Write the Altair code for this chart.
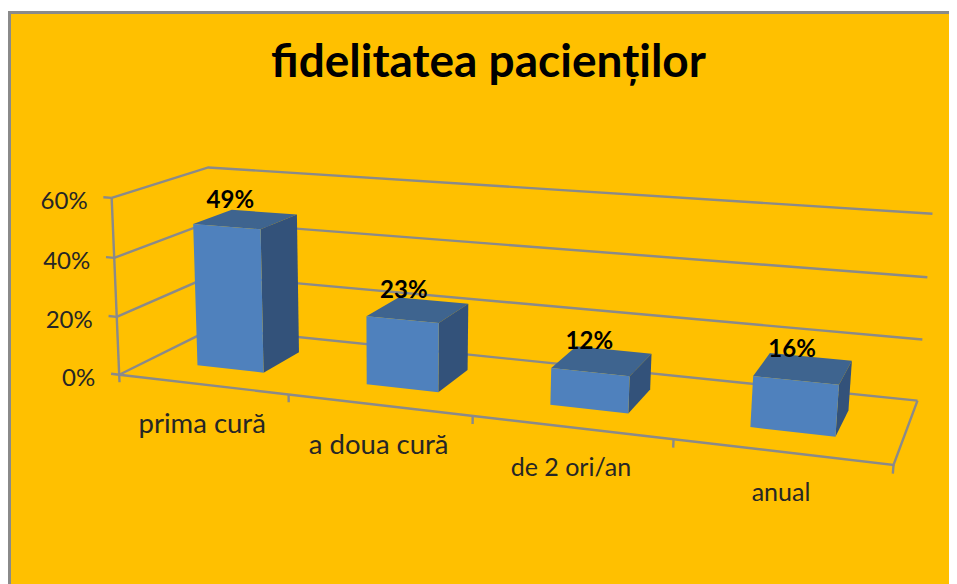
import altair as alt
import numpy as np
import pandas as pd

# ---- chart values
CATEGORIES = ["prima cură", "a doua cură", "de 2 ori/an", "anual"]
VALUES = [49, 23, 12, 16]
Y_TICKS = [0, 20, 40, 60]
TITLE = "fidelitatea pacienților"

# ---- scene calibration: (category pos, depth, value) -> picture position
ANCHORS = [
    (0, 0, 0, 122, 374), (1, 0, 0, 290, 395), (2, 0, 0, 473, 417), (3, 0, 0, 673, 440), (4, 0, 0, 893, 465),
    (0, 0, 20, 118, 316), (0, 0, 40, 113, 258), (0, 0, 60, 108, 197),
    (0, 1, 0, 209, 328), (0, 1, 20, 210, 275), (0, 1, 40, 211, 222.5), (0, 1, 60, 212, 169),
    (4, 1, 0, 918, 400), (4, 1, 20, 923, 340), (4, 1, 40, 927, 277), (4, 1, 60, 932, 213),
]


def fit_camera(anchors):
    rows, rhs = [], []
    for u, d, v, px, py in anchors:
        U, V = u / 4, v / 60
        px, py = px / 1000, py / 1000
        rows.append([U, d, V, 1, 0, 0, 0, 0, -px * U, -px * d, -px * V]); rhs.append(px)
        rows.append([0, 0, 0, 0, U, d, V, 1, -py * U, -py * d, -py * V]); rhs.append(py)
    return np.linalg.lstsq(np.array(rows, float), np.array(rhs, float), rcond=None)[0]


CAM = fit_camera(ANCHORS)


def project(u, d, v):
    U, V = u / 4, v / 60
    w = CAM[8] * U + CAM[9] * d + CAM[10] * V + 1
    return [float(1000 * (CAM[0] * U + CAM[1] * d + CAM[2] * V + CAM[3]) / w),
            float(1000 * (CAM[4] * U + CAM[5] * d + CAM[6] * V + CAM[7]) / w)]


def feature(kind, coords, **props):
    return {"type": "Feature", "geometry": {"type": kind, "coordinates": coords}, "properties": props}


def poly(fill, pts):
    ring = [project(*p) for p in pts]
    return feature("Polygon", [ring + [ring[0]]], fill=fill)


def path(*pts):
    return feature("LineString", [project(*p) for p in pts])


CANVAS_W, CANVAS_H = 941, 576
OFFSET = 8
GAP, D0, D1 = 0.30, 0.30, 0.72
FRONT, SIDE, TOP = "#4F81BD", "#33527A", "#3E648F"
GRID = "#8A8A8A"

projection = alt.Projection(type="identity", scale=1, translate=[-OFFSET, -OFFSET])


def shapes(features):
    return alt.Chart(alt.Data(values=features))


# frame
frame = shapes([feature("Polygon", [[[9.5, 12.5], [975, 12.5], [975, 600], [9.5, 600], [9.5, 12.5]]])]).mark_geoshape(
    fill="#FFC000", stroke="#8A8A8A", strokeWidth=3)

# wall, floor and axis lines
lines = [path((0, 0, t), (0, 1, t), (4, 1, t)) for t in Y_TICKS]
lines += [path((0, 0, 0), (0, 0, 60)), path((0, 0, 0), (4, 0, 0), (4, 1, 0))]
lines += [path((-0.05, 0, t), (0, 0, t)) for t in Y_TICKS]
lines += [path((i, 0, 0), (i, 0, -2.6)) for i in range(5)]
grid = shapes(lines).mark_geoshape(filled=False, stroke=GRID, strokeWidth=2.4)

# bars
faces = []
for i, val in enumerate(VALUES):
    a, b = i + GAP, i + 1 - GAP
    faces.append(poly(TOP, [(a, D0, val), (b, D0, val), (b, D1, val), (a, D1, val)]))
    faces.append(poly(SIDE, [(b, D0, 0), (b, D1, 0), (b, D1, val), (b, D0, val)]))
    faces.append(poly(FRONT, [(a, D0, 0), (b, D0, 0), (b, D0, val), (a, D0, val)]))
bars = shapes(faces).mark_geoshape(strokeWidth=0).encode(
    fill=alt.Fill("properties.fill:N", scale=None))

x = alt.X("px:Q", scale=alt.Scale(domain=[OFFSET, OFFSET + CANVAS_W]), axis=None)
y = alt.Y("py:Q", scale=alt.Scale(domain=[OFFSET + CANVAS_H, OFFSET]), axis=None)
FONT = "Lato"

# y tick labels
ytxt = pd.DataFrame([{"px": project(0, 0, t)[0], "py": project(0, 0, t)[1], "label": f"{t}%"} for t in Y_TICKS])
ylabels = alt.Chart(ytxt).mark_text(font=FONT, fontSize=24, align="right", baseline="middle", dx=-24, dy=4,
                                    color="#262626").encode(x=x, y=y, text="label:N")

# category labels
CAT_SIZES = [27.5, 27.5, 25, 25]
ctxt = pd.DataFrame([{"px": project(i + 0.5, 0, 0)[0], "py": project(i + 0.5, 0, 0)[1], "label": c, "fs": CAT_SIZES[i]}
                     for i, c in enumerate(CATEGORIES)])
clabels = alt.Chart(ctxt).mark_text(font=FONT, align="center", baseline="middle", dy=41, color="#262626").encode(
    x=x, y=y, text="label:N", size=alt.Size("fs:Q", scale=None, legend=None))

# value labels
vtxt = pd.DataFrame([{"px": project(i + 0.412 + 0.012 * i, 0.5, v)[0], "py": project(i + 0.412 + 0.012 * i, 0.5, v)[1],
                      "label": f"{v}%"} for i, v in enumerate(VALUES)])
vlabels = alt.Chart(vtxt).mark_text(font=FONT, fontSize=24, fontWeight="bold", align="center", baseline="middle",
                                    dy=-18, color="#000000").encode(x=x, y=y, text="label:N")

chart = alt.layer(frame, grid, bars, ylabels, clabels, vlabels).properties(
    width=CANVAS_W, height=CANVAS_H, projection=projection, padding=0,
    autosize=alt.AutoSizeParams(type="none"),
    background="#FFFFFF",
    title=alt.TitleParams(TITLE, font=FONT, fontSize=46, fontWeight="bold", color="#000000",
                          anchor="middle", frame="group", dx=10, dy=115, baseline="alphabetic", offset=0),
).configure_view(stroke=None)

chart.save("out.html", embed_options={"renderer": "svg", "actions": False})
